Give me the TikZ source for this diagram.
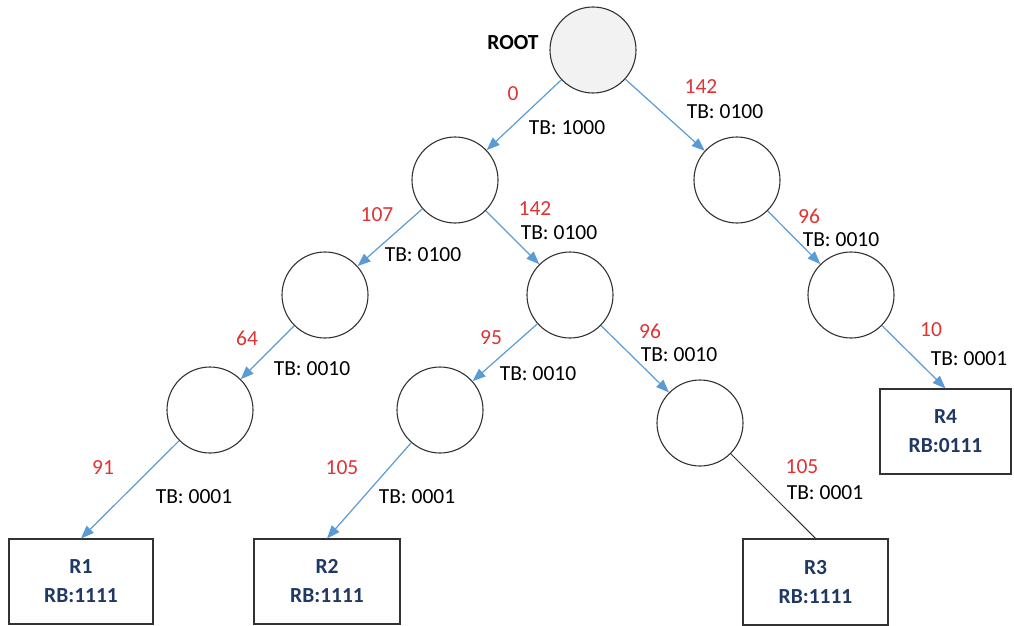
\documentclass[tikz,border=0pt]{standalone}
\usepackage{fontspec}
\setmainfont{Carlito}
\usetikzlibrary{arrows.meta}
\definecolor{edgeblue}{RGB}{91,155,213}
\definecolor{numred}{RGB}{222,52,52}
\definecolor{navy}{RGB}{31,56,100}
\definecolor{rootfill}{RGB}{242,242,242}
\definecolor{ring}{RGB}{50,50,50}
\tikzset{
  tnode/.style={circle,draw=ring,line width=1.1pt,minimum size=86pt,inner sep=0pt},
  rbox/.style={draw=ring,line width=1.1pt,inner sep=0pt,align=center,font=\fontsize{21.5}{29}\selectfont\bfseries,text=navy},
  edge/.style={draw=edgeblue,line width=1.2pt,-{Triangle[length=13pt,width=10pt]}},
  plain/.style={draw=ring,line width=1.0pt},
  num/.style={text=numred,font=\fontsize{21.5}{24}\selectfont,inner sep=0pt},
  tb/.style={text=black,font=\fontsize{21.5}{24}\selectfont,inner sep=0pt},
}
\begin{document}
\begin{tikzpicture}[x=1pt,y=-1pt]
\useasboundingbox (0,0) rectangle (1014,626);
% tree nodes
\node[tnode,fill=rootfill] (root) at (593,50) {};
\node[tnode] (a) at (455,180) {};
\node[tnode] (b) at (737,180) {};
\node[tnode] (c) at (325,295) {};
\node[tnode] (d) at (570,295) {};
\node[tnode] (e) at (851,295) {};
\node[tnode] (f) at (210,410) {};
\node[tnode] (g) at (440,410) {};
\node[tnode] (h) at (700,423) {};
% result boxes
\node[rbox,minimum width=144pt,minimum height=85pt] (r1) at (81,581.5) {R1\\RB:1111};
\node[rbox,minimum width=146pt,minimum height=85pt] (r2) at (327,581.5) {R2\\RB:1111};
\node[rbox,minimum width=145pt,minimum height=86pt] (r3) at (815.5,582) {R3\\RB:1111};
\node[rbox,minimum width=131pt,minimum height=85pt] (r4) at (945.5,431.5) {R4\\RB:0111};
% root label
\node[tb,font=\fontsize{21.5}{24}\selectfont\bfseries] (rootlbl) at (513,43) {ROOT};
% connectors
\draw[edge] (root) -- (a);
\draw[edge] (root) -- (b);
\draw[edge] (a) -- (c);
\draw[edge] (a) -- (d);
\draw[edge] (b) -- (e);
\draw[edge] (c) -- (f);
\draw[edge] (d) -- (g);
\draw[edge] (d) -- (h);
\draw[edge] (e) -- (r4.north);
\draw[edge] (f) -- (r1.north);
\draw[edge] (g) -- (r2.north);
\draw[plain] (h) -- (r3.north);
% edge labels
\node[num] (n1) at (513,94) {0};
\node[tb] (t1) at (567,128) {TB: 1000};
\node[num] (n2) at (701,87) {142};
\node[tb] (t2) at (725,112) {TB: 0100};
\node[num] (n3) at (377,215) {107};
\node[tb] (t3) at (423,255) {TB: 0100};
\node[num] (n4) at (535,209) {142};
\node[tb] (t4) at (559,233) {TB: 0100};
\node[num] (n5) at (809,216) {96};
\node[tb] (t5) at (841,240) {TB: 0010};
\node[num] (n6) at (247,338) {64};
\node[tb] (t6) at (312,369) {TB: 0010};
\node[num] (n7) at (491,338) {95};
\node[tb] (t7) at (538,374) {TB: 0010};
\node[num] (n8) at (650,331) {96};
\node[tb] (t8) at (679,355) {TB: 0010};
\node[num] (n9) at (931,330) {10};
\node[tb] (t9) at (969,359) {TB: 0001};
\node[num] (n10) at (103,468) {91};
\node[tb] (t10) at (194,497) {TB: 0001};
\node[num] (n11) at (342,468) {105};
\node[tb] (t11) at (417,497) {TB: 0001};
\node[num] (n12) at (802,467) {105};
\node[tb] (t12) at (825,493) {TB: 0001};
\end{tikzpicture}
\end{document}
